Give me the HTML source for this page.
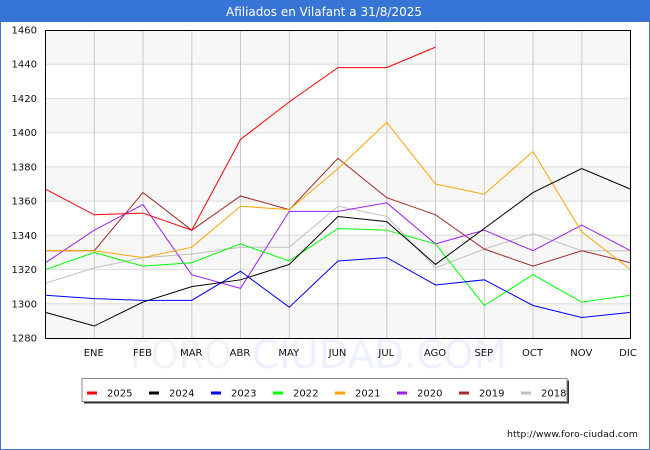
<!DOCTYPE html>
<html><head><meta charset="utf-8"><style>
html,body{margin:0;padding:0;background:#fff;}
svg{display:block;font-family:"DejaVu Sans","Liberation Sans",sans-serif;}
</style></head><body>
<svg width="650" height="450" viewBox="0 0 650 450" xmlns="http://www.w3.org/2000/svg">
<rect x="0" y="0" width="650" height="450" fill="#fff"/>
<!-- title bar -->
<rect x="0" y="0" width="650" height="22" fill="#3674d6"/>
<text x="324" y="16" font-size="12" fill="#fff" text-anchor="middle">Afiliados en Vilafant a 31/8/2025</text>
<!-- outer border -->
<rect x="0.5" y="0.5" width="649" height="449" fill="none" stroke="#3674d6" stroke-width="1"/>

<!-- plot bands -->
<rect x="45" y="30" width="585" height="308" fill="#fff"/>
<g fill="#f7f7f7">
<rect x="45" y="30" width="585" height="34.2"/>
<rect x="45" y="98.4" width="585" height="34.2"/>
<rect x="45" y="166.9" width="585" height="34.2"/>
<rect x="45" y="235.3" width="585" height="34.2"/>
<rect x="45" y="303.8" width="585" height="34.2"/>
</g>
<!-- horizontal grid -->
<g stroke="#dcdcdc" stroke-width="1">
<line x1="45" x2="630" y1="64.2" y2="64.2"/>
<line x1="45" x2="630" y1="98.4" y2="98.4"/>
<line x1="45" x2="630" y1="132.7" y2="132.7"/>
<line x1="45" x2="630" y1="166.9" y2="166.9"/>
<line x1="45" x2="630" y1="201.1" y2="201.1"/>
<line x1="45" x2="630" y1="235.3" y2="235.3"/>
<line x1="45" x2="630" y1="269.6" y2="269.6"/>
<line x1="45" x2="630" y1="303.8" y2="303.8"/>
</g>
<!-- vertical grid -->
<g stroke="#cacaca" stroke-width="1">
<line x1="94.3" x2="94.3" y1="30" y2="338"/>
<line x1="143" x2="143" y1="30" y2="338"/>
<line x1="191.8" x2="191.8" y1="30" y2="338"/>
<line x1="240.5" x2="240.5" y1="30" y2="338"/>
<line x1="289.3" x2="289.3" y1="30" y2="338"/>
<line x1="338" x2="338" y1="30" y2="338"/>
<line x1="386.8" x2="386.8" y1="30" y2="338"/>
<line x1="435.5" x2="435.5" y1="30" y2="338"/>
<line x1="484.3" x2="484.3" y1="30" y2="338"/>
<line x1="533" x2="533" y1="30" y2="338"/>
<line x1="581.8" x2="581.8" y1="30" y2="338"/>
</g>

<!-- watermark -->
<text x="130" y="368" font-size="39" fill="#f3f3f3" textLength="102" lengthAdjust="spacingAndGlyphs">FORO</text>
<text x="252" y="368" font-size="39" fill="#eef0fd" textLength="255" lengthAdjust="spacingAndGlyphs">CIUDAD.COM</text>

<!-- series -->
<g fill="none" stroke-width="1" stroke-linejoin="miter" transform="translate(45.5,338) scale(48.75,-1.711111) translate(0,-1280)">
<polyline vector-effect="non-scaling-stroke" stroke="#c0c0c0" points="0,1312 1,1321 2,1327 3,1329 4,1333 5,1333 6,1357 7,1351 8,1321 9,1332 10,1341 11,1331 12,1331"/>
<polyline vector-effect="non-scaling-stroke" stroke="#a52a2a" points="0,1331 1,1331 2,1365 3,1343 4,1363 5,1355 6,1385 7,1362 8,1352 9,1332 10,1322 11,1331 12,1324"/>
<polyline vector-effect="non-scaling-stroke" stroke="#a020f0" points="0,1324 1,1343 2,1358 3,1317 4,1309 5,1354 6,1354 7,1359 8,1335 9,1343 10,1331 11,1346 12,1331"/>
<polyline vector-effect="non-scaling-stroke" stroke="#ffa500" points="0,1331 1,1331 2,1327 3,1333 4,1357 5,1355 6,1379 7,1406 8,1370 9,1364 10,1389 11,1342 12,1320"/>
<polyline vector-effect="non-scaling-stroke" stroke="#00ff00" points="0,1320 1,1330 2,1322 3,1324 4,1335 5,1325 6,1344 7,1343 8,1335 9,1299 10,1317 11,1301 12,1305"/>
<polyline vector-effect="non-scaling-stroke" stroke="#0000ff" points="0,1305 1,1303 2,1302 3,1302 4,1319 5,1298 6,1325 7,1327 8,1311 9,1314 10,1299 11,1292 12,1295"/>
<polyline vector-effect="non-scaling-stroke" stroke="#000000" points="0,1295 1,1287 2,1301 3,1310 4,1314 5,1323 6,1351 7,1348 8,1323 9,1344 10,1365 11,1379 12,1367"/>
<polyline vector-effect="non-scaling-stroke" stroke="#ff0000" points="0,1367 1,1352 2,1353 3,1343 4,1396 5,1418 6,1438 7,1438 8,1450"/>
</g>

<!-- plot frame -->
<rect x="45.5" y="30.5" width="585" height="308" fill="none" stroke="#000" stroke-width="1"/>

<!-- y labels -->
<g font-size="10" fill="#111" text-anchor="end">
<text x="37" y="33.5">1460</text>
<text x="37" y="67.7">1440</text>
<text x="37" y="101.9">1420</text>
<text x="37" y="136.2">1400</text>
<text x="37" y="170.4">1380</text>
<text x="37" y="204.6">1360</text>
<text x="37" y="238.8">1340</text>
<text x="37" y="273.1">1320</text>
<text x="37" y="307.3">1300</text>
<text x="37" y="341.5">1280</text>
</g>
<!-- x labels -->
<g font-size="10" fill="#111" text-anchor="middle">
<text x="93.8" y="356">ENE</text>
<text x="142.5" y="356">FEB</text>
<text x="191.3" y="356">MAR</text>
<text x="240" y="356">ABR</text>
<text x="288.8" y="356">MAY</text>
<text x="337.5" y="356">JUN</text>
<text x="386.3" y="356">JUL</text>
<text x="435" y="356">AGO</text>
<text x="483.8" y="356">SEP</text>
<text x="532.5" y="356">OCT</text>
<text x="581.3" y="356">NOV</text>
<text x="628" y="356">DIC</text>
</g>

<!-- legend -->
<rect x="84" y="380.5" width="485" height="23" fill="#333"/>
<rect x="82" y="378.5" width="485" height="23" fill="#fff" stroke="#888" stroke-width="1"/>
<g stroke-width="3">
<line x1="87" x2="97" y1="393" y2="393" stroke="#ff0000"/>
<line x1="149" x2="159" y1="393" y2="393" stroke="#000000"/>
<line x1="211" x2="221" y1="393" y2="393" stroke="#0000ff"/>
<line x1="273" x2="283" y1="393" y2="393" stroke="#00ff00"/>
<line x1="335" x2="345" y1="393" y2="393" stroke="#ffa500"/>
<line x1="397" x2="407" y1="393" y2="393" stroke="#a020f0"/>
<line x1="459" x2="469" y1="393" y2="393" stroke="#a52a2a"/>
<line x1="521" x2="531" y1="393" y2="393" stroke="#c0c0c0"/>
</g>
<g font-size="10" fill="#111">
<text x="107" y="396.5">2025</text>
<text x="169" y="396.5">2024</text>
<text x="231" y="396.5">2023</text>
<text x="293" y="396.5">2022</text>
<text x="355" y="396.5">2021</text>
<text x="417" y="396.5">2020</text>
<text x="479" y="396.5">2019</text>
<text x="541" y="396.5">2018</text>
</g>

<!-- footer -->
<text x="507" y="437" font-size="9" fill="#111" textLength="131" lengthAdjust="spacingAndGlyphs">http://www.foro-ciudad.com</text>
</svg>
</body></html>
